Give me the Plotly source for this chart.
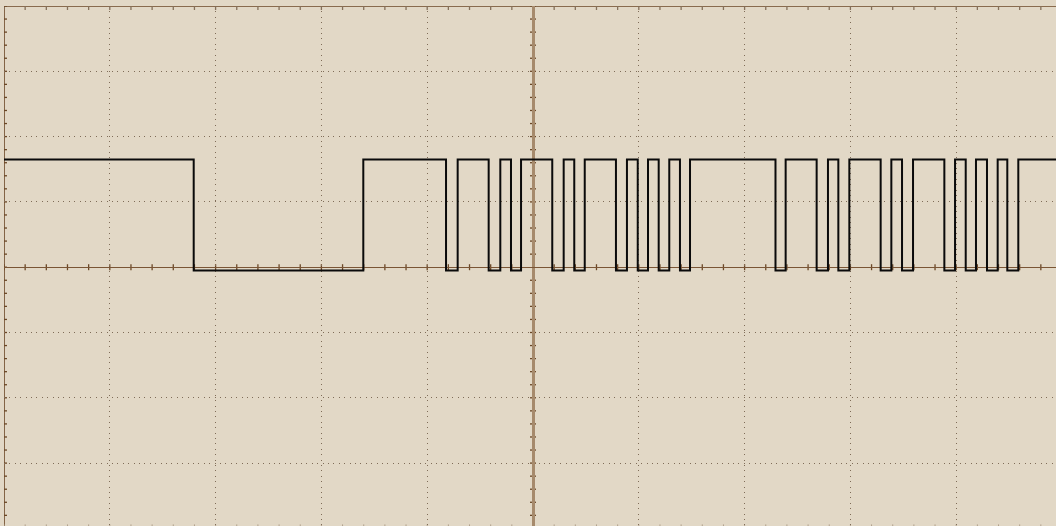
import plotly.graph_objects as go

# Oscilloscope trace, time in divisions (10 div across), volts in divisions
high_level = 1.65
low_level = -0.05
start_time = -5.0
end_time = 4.95
# edge times (alternating: falling, rising, ...)
edge_times = [-3.207, -1.604, -0.822, -0.712, -0.419, -0.309, -0.208, -0.113,
              0.182, 0.290, 0.390, 0.489, 0.784, 0.888, 0.990, 1.087, 1.188,
              1.288, 1.389, 1.484, 2.292, 2.388, 2.681, 2.788, 2.886, 2.990,
              3.286, 3.387, 3.488, 3.592, 3.888, 3.989, 4.090, 4.187, 4.291,
              4.392, 4.483, 4.587]

xs = [start_time] + edge_times + [end_time]
ys = [high_level]
for i in range(len(edge_times)):
    ys.append(low_level if i % 2 == 0 else high_level)
ys.append(ys[-1])

W, H = 1056, 526
ML, MT = 4, 6
PX_X = 105.8
PX_Y = 65.3
XR = [-5, -5 + (W - ML) / PX_X]
YR = [4 - (H - MT) / PX_Y, 4]

bg = "#E2D8C6"
frame_col = "#6B4726"
tick_col = "#85705A"
grid_col = "#7F6C58"

fig = go.Figure()
fig.add_trace(go.Scatter(x=xs, y=ys, mode="lines", line=dict(color="#0A0A0A", width=2.0, shape="hv"),
                         hoverinfo="skip", showlegend=False))

shapes = []
def seg(x0, y0, x1, y1, color, width):
    shapes.append(dict(type="line", xref="x", yref="y", x0=x0, y0=y0, x1=x1, y1=y1,
                       line=dict(color=color, width=width), layer="below"))

dx = 1 / PX_X
dy = 1 / PX_Y
# minor tick positions
xt = [round(-5 + 0.2 * k, 3) for k in range(0, 51)]
yt = [round(-4 + 0.2 * k, 3) for k in range(0, 41)]

# frame
seg(-5, 4, 5, 4, frame_col, 1.6)
seg(-5, -4, -5, 4, frame_col, 1.6)
seg(-5, -4, 5, -4, frame_col, 1.6)
for x in xt:
    seg(x, 4, x, 4 - 4 * dy, tick_col, 1.3)
    seg(x, -4, x, -4 + 4 * dy, "#B0A08C", 1.0)
    if abs(x) > 1e-6:
        seg(x, -3 * dy, x, 3 * dy, frame_col, 1.3)
for y in yt:
    seg(-5, y, -5 + 3 * dx, y, frame_col, 1.3)
    if abs(y) > 1e-6:
        seg(-3 * dx, y, 3 * dx, y, frame_col, 1.3)

fig.update_layout(
    width=W, height=H,
    margin=dict(l=ML, r=0, t=MT, b=0, pad=0),
    paper_bgcolor=bg, plot_bgcolor=bg,
    shapes=shapes,
    xaxis=dict(range=XR, showticklabels=False, ticks="", dtick=1, tick0=0,
               showgrid=True, gridcolor=grid_col, griddash="1px,4.4px", gridwidth=1,
               zeroline=True, zerolinecolor="#A68A6C", zerolinewidth=2.5,
               showline=False, fixedrange=True),
    yaxis=dict(range=YR, showticklabels=False, ticks="", dtick=1, tick0=0,
               showgrid=True, gridcolor=grid_col, griddash="1px,4.4px", gridwidth=1,
               zeroline=True, zerolinecolor="#7A5535", zerolinewidth=1.3,
               showline=False, fixedrange=True),
)

fig.write_html("out.html", config={"displayModeBar": False},
               post_script="document.body.style.margin='0';document.body.style.overflow='hidden';")
